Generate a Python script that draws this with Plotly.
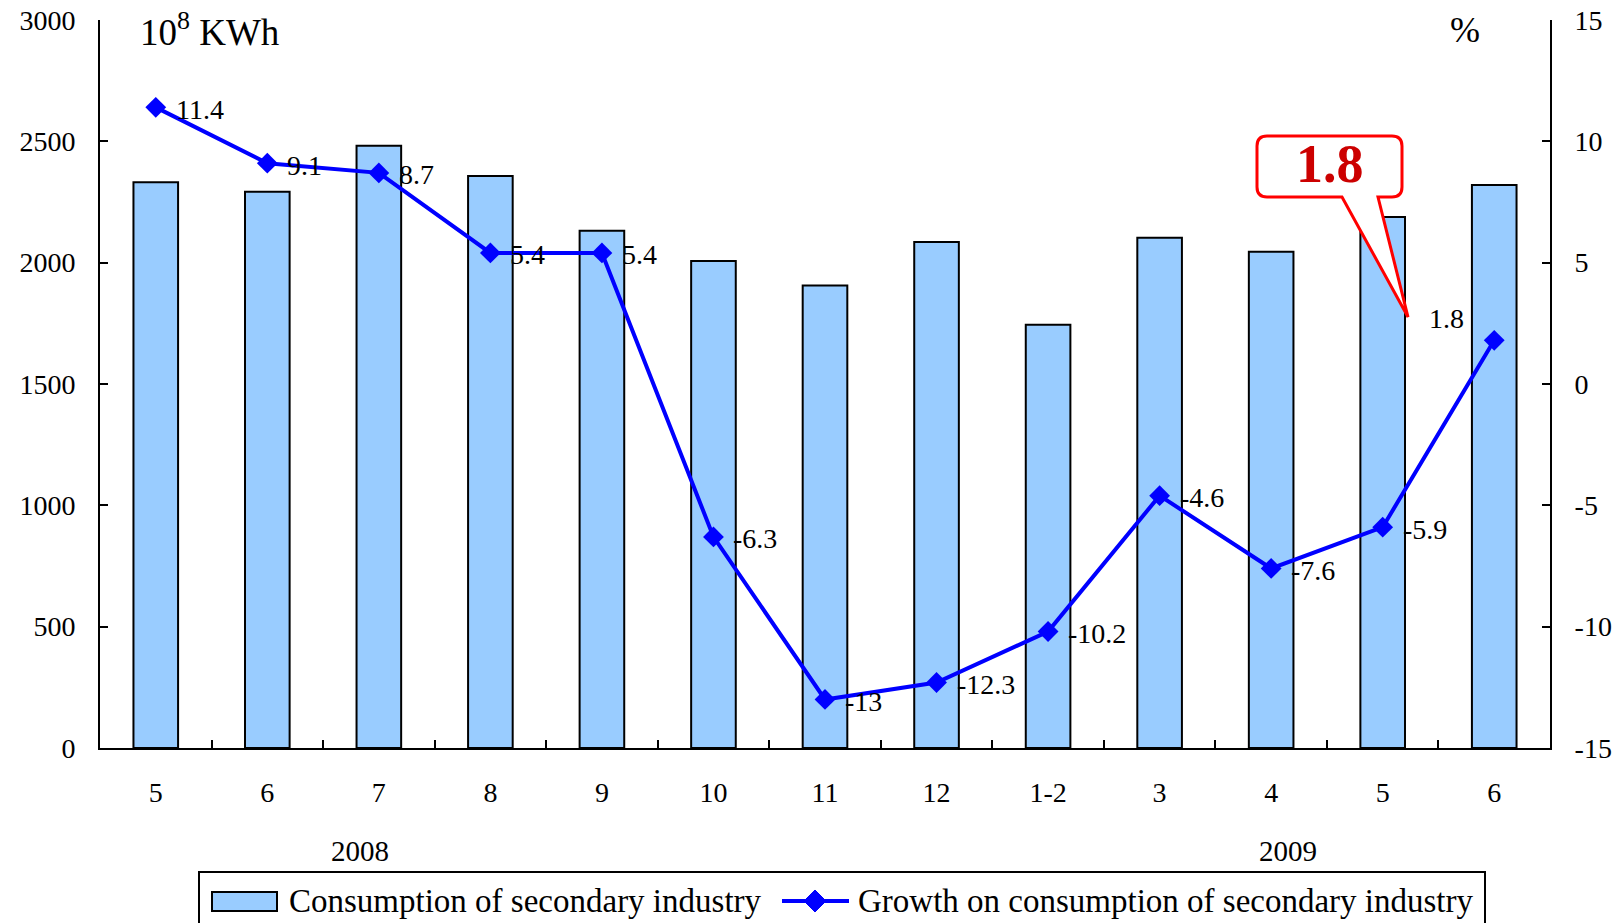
import plotly.graph_objects as go

# ---- data ----
months = ["5", "6", "7", "8", "9", "10", "11", "12", "1-2", "3", "4", "5", "6"]
consumption = [2331, 2292, 2482, 2357, 2132, 2007, 1906, 2085, 1744, 2103, 2045, 2188, 2320]
growth = [11.4, 9.1, 8.7, 5.4, 5.4, -6.3, -13, -12.3, -10.2, -4.6, -7.6, -5.9, 1.8]
years = ["2008", "2009"]
left_ticks = [0, 500, 1000, 1500, 2000, 2500, 3000]
right_ticks = [-15, -10, -5, 0, 5, 10, 15]
highlight = 1.8

# ---- page geometry (pixels) ----
FIG_W, FIG_H = 1624, 923
L, R, T, B = 100, 1550, 20, 748
PW, PH = R - L, B - T


def xp(x):
    return (x - L) / PW


def yp(y):
    return (B - y) / PH


FONT = "Liberation Serif, Times New Roman, serif"
BAR_FILL = "#99CCFF"
LINE_COL = "#0000FF"

idx = list(range(len(months)))

fig = go.Figure()
fig.add_trace(go.Bar(
    x=idx, y=consumption, name="Consumption of secondary industry",
    marker=dict(color=BAR_FILL, line=dict(color="black", width=2)),
    width=0.4, showlegend=False,
))
fig.add_trace(go.Scatter(
    x=idx, y=growth, yaxis="y2", mode="lines+markers",
    name="Growth on consumption of secondary industry",
    line=dict(color=LINE_COL, width=4),
    marker=dict(symbol="diamond", size=16, color=LINE_COL),
    showlegend=False,
))

annotations = []
# value labels beside each point of the growth line
for i, v in enumerate(growth):
    last = i == len(growth) - 1
    annotations.append(dict(
        x=i, y=v, xref="x", yref="y2", text=f"{v:g}", showarrow=False,
        xanchor="right" if last else "left", yanchor="middle",
        xshift=-28 if last else 18, yshift=22 if last else -2,
        font=dict(family=FONT, size=28, color="black"),
    ))

# axis units
annotations.append(dict(
    x=xp(138), y=yp(30), xref="paper", yref="paper", xanchor="left", yanchor="middle",
    text="10<sup>8</sup> KWh", showarrow=False, font=dict(family=FONT, size=37, color="black"),
))
annotations.append(dict(
    x=xp(1465), y=yp(30), xref="paper", yref="paper", xanchor="center", yanchor="middle",
    text="%", showarrow=False, font=dict(family=FONT, size=36, color="black"),
))

# year labels under the month axis
for yr, cx in zip(years, [360, 1288]):
    annotations.append(dict(
        x=xp(cx), y=yp(851), xref="paper", yref="paper", xanchor="center", yanchor="middle",
        text=yr, showarrow=False, font=dict(family=FONT, size=29, color="black"),
    ))

# callout text
annotations.append(dict(
    x=xp(1330), y=yp(164), xref="paper", yref="paper", xanchor="center", yanchor="middle",
    text=f"<b>{highlight:g}</b>", showarrow=False,
    font=dict(family=FONT, size=54, color="#CC0000"),
))

# custom legend text
annotations.append(dict(
    x=xp(287), y=yp(901), xref="paper", yref="paper", xanchor="left", yanchor="middle",
    text="Consumption of secondary industry", showarrow=False,
    font=dict(family=FONT, size=33, color="black"),
))
annotations.append(dict(
    x=xp(856), y=yp(901), xref="paper", yref="paper", xanchor="left", yanchor="middle",
    text="Growth on consumption of secondary industry", showarrow=False,
    font=dict(family=FONT, size=33, color="black"),
))

shapes = []

# callout bubble: rounded box with a tail pointing at the last label
x0, x1, y0, y1, r = 1257, 1402, 136, 197, 10
tx0, tx1, tipx, tipy = 1342, 1378, 1408, 317
pts = [
    ("M", x0 + r, y0), ("L", x1 - r, y0), ("Q", x1, y0, x1, y0 + r),
    ("L", x1, y1 - r), ("Q", x1, y1, x1 - r, y1),
    ("L", tx1, y1), ("L", tipx, tipy), ("L", tx0, y1),
    ("L", x0 + r, y1), ("Q", x0, y1, x0, y1 - r),
    ("L", x0, y0 + r), ("Q", x0, y0, x0 + r, y0),
]
path = ""
for p in pts:
    cmd, coords = p[0], p[1:]
    out = []
    for k in range(0, len(coords), 2):
        out.append(f"{xp(coords[k]):.5f},{yp(coords[k + 1]):.5f}")
    path += cmd + " ".join(out) + " "
path += "Z"
shapes.append(dict(type="path", xref="paper", yref="paper", path=path,
                   fillcolor="white", line=dict(color="#FF0000", width=3)))

# legend frame and keys
shapes.append(dict(type="rect", xref="paper", yref="paper",
                   x0=xp(199), x1=xp(1485), y0=yp(872), y1=yp(945),
                   line=dict(color="black", width=2), fillcolor="rgba(0,0,0,0)"))
shapes.append(dict(type="rect", xref="paper", yref="paper",
                   x0=xp(212), x1=xp(277), y0=yp(892), y1=yp(911),
                   line=dict(color="black", width=2), fillcolor=BAR_FILL))
shapes.append(dict(type="line", xref="paper", yref="paper",
                   x0=xp(782), x1=xp(849), y0=yp(901), y1=yp(901),
                   line=dict(color=LINE_COL, width=4)))
dcx, dcy, dh = 815, 901, 11
shapes.append(dict(type="path", xref="paper", yref="paper",
                   path=(f"M{xp(dcx - dh):.5f},{yp(dcy):.5f} L{xp(dcx):.5f},{yp(dcy - dh):.5f} "
                         f"L{xp(dcx + dh):.5f},{yp(dcy):.5f} L{xp(dcx):.5f},{yp(dcy + dh):.5f} Z"),
                   fillcolor=LINE_COL, line=dict(color=LINE_COL, width=1)))

fig.update_layout(
    width=FIG_W, height=FIG_H,
    margin=dict(l=L, r=FIG_W - R, t=T, b=FIG_H - B, pad=0, autoexpand=False),
    paper_bgcolor="white", plot_bgcolor="white",
    font=dict(family=FONT, size=28, color="black"),
    bargap=0.6,
    xaxis=dict(
        range=[-0.5, len(months) - 0.5], tickmode="array", tickvals=idx, ticktext=months,
        ticks="", showgrid=False, zeroline=False, automargin=False,
        showline=True, linecolor="black", linewidth=2,
        ticklabelstandoff=18,
        minor=dict(tickmode="array", tickvals=[i + 0.5 for i in idx[:-1]],
                   ticks="inside", ticklen=8, tickwidth=2, tickcolor="black", showgrid=False),
        tickfont=dict(family=FONT, size=28),
    ),
    yaxis=dict(
        range=[0, 3000], tickmode="array", tickvals=left_ticks,
        ticktext=[str(t) for t in left_ticks], automargin=False,
        ticks="inside", ticklen=8, tickwidth=2, tickcolor="black",
        showgrid=False, zeroline=False, showline=True, linecolor="black", linewidth=2,
        ticklabelstandoff=17, tickfont=dict(family=FONT, size=28),
    ),
    yaxis2=dict(
        range=[-15, 15], overlaying="y", side="right", tickmode="array",
        tickvals=right_ticks, ticktext=[str(t) for t in right_ticks], automargin=False,
        ticks="inside", ticklen=8, tickwidth=2, tickcolor="black",
        showgrid=False, zeroline=False, showline=True, linecolor="black", linewidth=2,
        ticklabelstandoff=17, tickfont=dict(family=FONT, size=28),
    ),
    annotations=annotations,
    shapes=shapes,
)

fig.write_html("out.html")
